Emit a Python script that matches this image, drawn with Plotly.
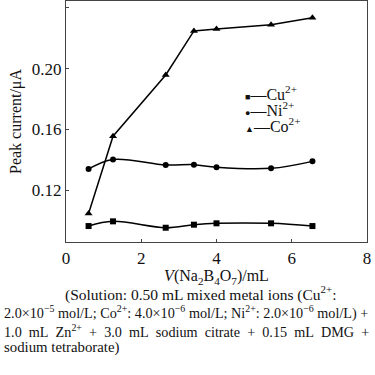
import plotly.graph_objects as go

volume = [0.6, 1.25, 2.65, 3.4, 4.0, 5.45, 6.55]
cu = [0.0964, 0.0995, 0.0953, 0.0973, 0.0982, 0.0982, 0.0964]
ni = [0.1340, 0.1403, 0.1366, 0.1368, 0.1351, 0.1344, 0.1390]
co = [0.1047, 0.1556, 0.1959, 0.2249, 0.2262, 0.2289, 0.2336]

x_ticks = [0, 2, 4, 6, 8]
y_ticks = [0.12, 0.16, 0.20, 0.24]

SERIF = "Liberation Serif"

fig = go.Figure()
fig.add_trace(go.Scatter(x=volume, y=co, mode="lines+markers", name="Co",
                         line=dict(color="black", width=1.5),
                         marker=dict(symbol="triangle-up", size=7, color="black")))
fig.add_trace(go.Scatter(x=volume, y=ni, mode="lines+markers", name="Ni",
                         line=dict(color="black", width=1.5, shape="spline", smoothing=1),
                         marker=dict(symbol="circle", size=6, color="black")))
fig.add_trace(go.Scatter(x=volume, y=cu, mode="lines+markers", name="Cu",
                         line=dict(color="black", width=1.5, shape="spline", smoothing=1),
                         marker=dict(symbol="square", size=6, color="black")))

axis_common = dict(showline=True, linecolor="#444", linewidth=1.2, mirror=True,
                   ticks="inside", ticklen=3, tickcolor="#444", showgrid=False,
                   zeroline=False, automargin=False,
                   tickfont=dict(family=SERIF, size=17, color="#111"))

fig.update_xaxes(range=[0, 8], tickvals=x_ticks, ticktext=[str(v) for v in x_ticks],
                 title=dict(text="<i>V</i>(Na<sub>2</sub>B<sub>4</sub>O<sub>7</sub>)/mL",
                            font=dict(family=SERIF, size=16, color="#111"), standoff=0),
                 **axis_common)
fig.update_yaxes(range=[0.0859, 0.2446], tickvals=y_ticks,
                 ticktext=[f"{v:.2f}" for v in y_ticks],
                 title=dict(text="Peak current/μA",
                            font=dict(family=SERIF, size=16, color="#111"), standoff=6),
                 **axis_common)

annotations = []
legend_rows = [("■", "Cu"), ("●", "Ni"), ("▲", "Co")]
for i, (sym, name) in enumerate(legend_rows):
    annotations.append(dict(
        x=243, y=93.5 + 16 * i, xref="paper", yref="paper",
        text=f"<span style='font-size:9px'>{sym}</span>\u2014{name}<sup>2+</sup>",
        showarrow=False, xanchor="left", yanchor="middle",
        font=dict(family=SERIF, size=16, color="#111")))

caption = [
    ("(Solution: 0.50 mL mixed metal ions (Cu<sup>2+</sup>:", 200, 294, "center", 15.5),
    ("2.0×10<sup>−5</sup>\u00a0mol/L; Co<sup>2+</sup>: 4.0×10<sup>−6</sup>\u00a0mol/L; Ni<sup>2+</sup>: 2.0×10<sup>−6</sup>\u00a0mol/L) +", 2, 313, "left", 14.2),
    ("1.0\u00a0 mL\u00a0 Zn<sup>2+</sup>\u00a0 +\u00a0 3.0\u00a0 mL\u00a0 sodium\u00a0 citrate\u00a0 +\u00a0 0.15\u00a0 mL\u00a0 DMG\u00a0 +", 2, 331, "left", 14.2),
    ("sodium tetraborate)", 2, 348, "left", 14.8),
]
for text, x, y, anchor, size in caption:
    annotations.append(dict(text=text, x=x, y=y, xref="paper", yref="paper",
                            showarrow=False, xanchor=anchor, yanchor="middle",
                            font=dict(family=SERIF, size=size, color="#111")))

# convert pixel positions (from top-left of the 375x375 picture) to paper coordinates
L, R, T, B = 65.7, 8.3, 1, 132.7
pw, ph = 375 - L - R, 375 - T - B
for a in annotations:
    a["x"] = (a["x"] - L) / pw
    a["y"] = (375 - a["y"] - B) / ph

fig.update_layout(width=375, height=375, margin=dict(l=L, r=R, t=T, b=B, autoexpand=False),
                  paper_bgcolor="white", plot_bgcolor="white", showlegend=False,
                  annotations=annotations)

fig.write_html("out.html", config={"displayModeBar": False},
               post_script="document.body.style.margin='0';document.body.style.overflow='hidden';")
